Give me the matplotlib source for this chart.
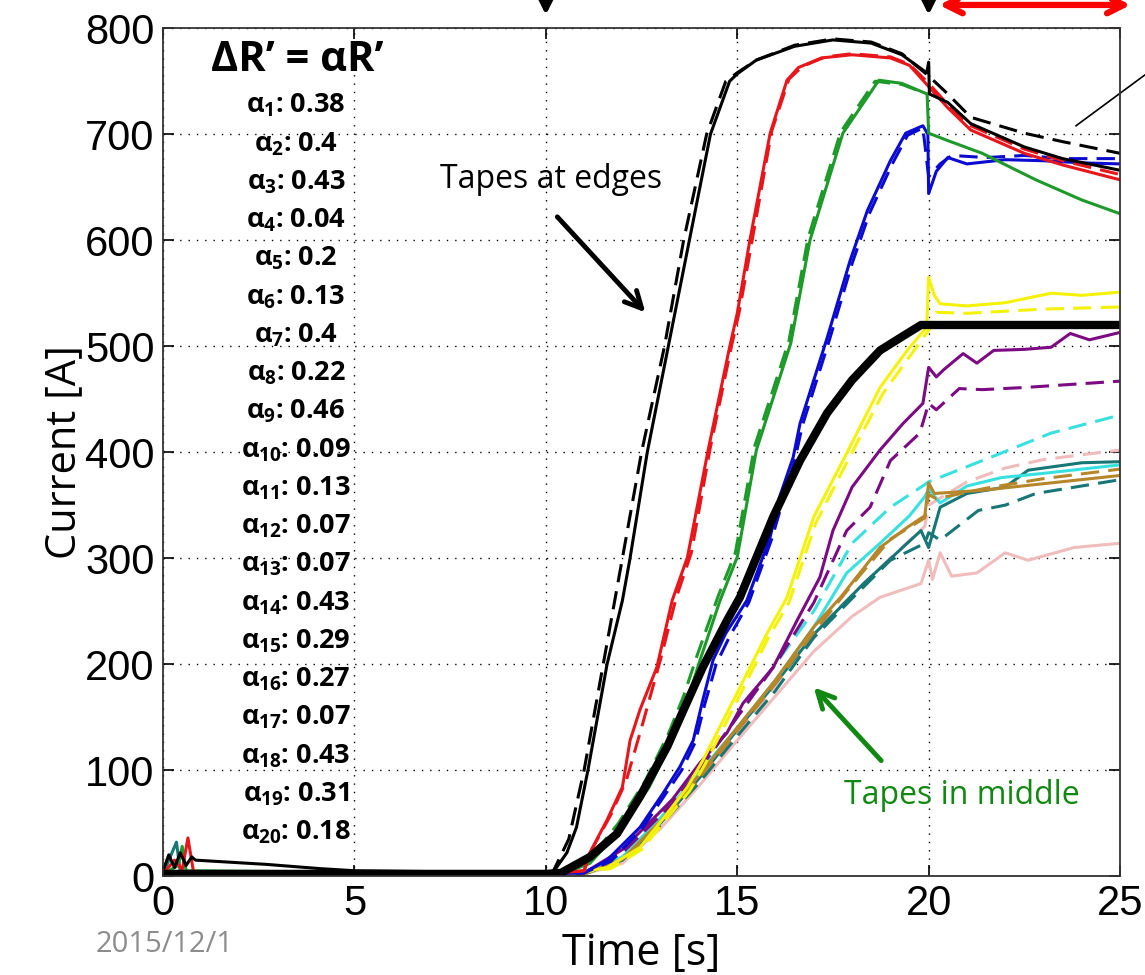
import matplotlib
matplotlib.use("Agg")
import matplotlib.pyplot as plt

plt.rcParams['mathtext.fontset'] = 'custom'
plt.rcParams['mathtext.rm'] = 'Open Sans:bold'
plt.rcParams['mathtext.it'] = 'Open Sans:bold'
plt.rcParams['mathtext.bf'] = 'Open Sans:bold'

# --- data (time [s], current [A]) ---
t_edge = [0, 0.15, 0.3, 0.45, 0.6, 0.75, 0.85, 2.7, 4.1, 5, 10, 10.2, 10.55, 10.8, 11.1, 11.6, 12.0, 12.2,
          12.65, 13.2, 13.75, 14.3, 14.8, 15.0, 15.5, 16.5, 17.5, 18.5, 19.3, 19.95, 20.0, 20.02, 20.5, 21.1,
          22.5, 23.5, 25]
i_edge = [5, 20, 8, 22, 10, 18, 15, 11, 7, 5, 3, 4, 22, 46, 100, 200, 260, 300,
          400, 500, 600, 700, 750, 757, 770, 783, 789, 786, 775, 758, 768, 738, 730, 710,
          688, 677, 666]
t_edge_d = [0, 10, 10.2, 10.6, 11.0, 11.5, 11.9, 12.5, 13.1, 13.6, 14.2, 14.7, 15.0, 15.5, 16.5, 17.5, 18.5,
            19.3, 20.0, 20.5, 21.1, 22.5, 23.5, 25]
i_edge_d = [3, 3, 5, 35, 100, 200, 280, 400, 500, 600, 700, 750, 758, 770, 784, 790, 787,
            776, 755, 738, 716, 701, 693, 682]

t_red = [0, 0.3, 0.5, 0.65, 0.8, 10, 11.0, 11.15, 11.6, 12.0, 12.2, 12.46, 12.9, 13.3, 13.7, 14.24, 14.8, 15.0,
         15.33, 15.86, 16.3, 16.6, 17.2, 18.0, 19.0, 19.5, 20.0, 20.5, 21.1, 22.5, 23.5, 25]
i_red = [2, 15, 6, 36, 3, 2, 5, 22, 53, 84, 128, 157, 197, 260, 301, 402, 499, 531,
         600, 701, 751, 763, 772, 775, 772, 765, 745, 725, 704, 682, 671, 657]
t_red_d = [0, 10, 11.0, 11.2, 11.7, 12.1, 12.5, 13.0, 13.4, 13.8, 14.3, 14.85, 15.05, 15.4, 15.9, 16.35,
           16.7, 17.3, 18.0, 19.0, 19.5, 20.0, 20.5, 21.1, 22.5, 23.5, 25]
i_red_d = [2, 2, 5, 25, 58, 90, 140, 205, 262, 305, 405, 500, 532, 602, 703, 752, 764, 773, 776, 773,
           766, 748, 728, 708, 686, 675, 662]

t_green = [0, 0.4, 0.5, 0.6, 10, 10.5, 11.15, 12.0, 12.7, 13.3, 13.7, 14.03, 14.55, 15.0, 15.5, 16.4,
           16.9, 17.76, 18.7, 19.3, 19.96, 20.0, 20.5, 21.4, 22.8, 24, 25]
i_green = [2, 10, 28, 5, 2, 3, 12, 46, 84, 128, 166, 204, 260, 301, 402, 503,
           600, 701, 751, 748, 738, 701, 694, 682, 657, 638, 625]
t_green_d = [0, 10, 10.5, 11.1, 11.9, 12.6, 13.2, 13.6, 13.95, 14.5, 14.95, 15.45, 16.35, 16.85, 17.7,
             18.6, 19.3, 19.96]
i_green_d = [2, 2, 3, 14, 50, 90, 134, 170, 208, 264, 305, 405, 505, 602, 702, 750, 747, 738]

t_blue = [0, 10, 11.0, 11.6, 12.46, 13.06, 13.5, 13.85, 14.1, 14.37, 14.7, 15.25, 15.86, 16.1, 16.46,
          16.64, 17.35, 17.95, 18.4, 19.0, 19.4, 19.85, 19.98, 20.0, 20.2, 20.5, 21, 22, 23, 24, 25]
i_blue = [2, 2, 3, 15, 46, 78, 103, 128, 166, 204, 229, 260, 320, 357, 395,
          427, 508, 581, 628, 675, 701, 708, 700, 644, 665, 678, 672, 676, 675, 673, 672]
t_blue_d = [0, 10, 11.0, 11.7, 12.5, 13.1, 13.55, 13.9, 14.15, 14.45, 14.8, 15.3, 15.9, 16.2, 16.5,
            16.7, 17.4, 18.0, 18.45, 19.05, 19.45, 19.85, 20.0, 20.3, 20.6, 21.5, 22.5, 23.5, 25]
i_blue_d = [2, 2, 3, 14, 44, 76, 100, 126, 162, 200, 226, 258, 318, 355, 392,
            425, 505, 578, 625, 672, 699, 706, 660, 672, 680, 678, 680, 677, 677]

t_ref = [0, 10, 10.4, 11.15, 11.86, 12.46, 13.17, 13.6, 14.1, 14.73, 15.07, 15.94, 16.64, 17.35, 18.0,
         18.73, 19.44, 19.8, 25]
i_ref = [2, 2, 3, 18, 40, 75, 122, 157, 197, 241, 263, 339, 392, 437, 468,
         496, 512, 520, 520]

t_yel = [0, 10, 10.8, 11.6, 12.46, 13.17, 13.7, 14.1, 14.55, 15.07, 15.78, 16.3, 17.0, 17.86, 18.73,
         19.44, 19.95, 20.0, 20.15, 20.3, 21, 22, 23.2, 24, 25]
i_yel = [2, 2, 3, 8, 27, 59, 84, 109, 141, 178, 229, 263, 339, 399, 461,
         496, 518, 565, 548, 540, 538, 541, 550, 548, 551]
t_yel_d = [0, 10, 10.8, 11.7, 12.5, 13.2, 13.75, 14.15, 14.6, 15.1, 15.8, 16.35, 17.05, 17.9, 18.8,
           19.5, 20.0, 20.2, 21, 22, 23, 24, 25]
i_yel_d = [2, 2, 3, 7, 25, 56, 80, 105, 137, 173, 224, 258, 333, 393, 455,
           490, 515, 532, 531, 533, 535, 536, 537]

t_pur = [0, 10, 11.0, 12.0, 13.3, 14.03, 14.73, 15.15, 15.94, 16.56, 17.16, 17.5, 18.0, 18.73, 19.33,
         19.85, 20.0, 20.2, 20.4, 20.9, 21.26, 21.7, 22.5, 23.2, 23.7, 24.2, 25]
i_pur = [2, 2, 3, 25, 72, 107, 135, 163, 197, 241, 282, 326, 367, 402, 427,
         446, 480, 471, 478, 493, 484, 496, 497, 499, 512, 506, 513]
t_pur_d = [0, 10, 11.0, 12.0, 13.3, 14.0, 15.0, 16.0, 17.0, 17.86, 18.47, 19.0, 19.77, 20.0, 20.2, 20.8,
           21.4, 22.5, 25]
i_pur_d = [2, 2, 3, 22, 68, 100, 150, 200, 258, 326, 348, 392, 418, 446, 440, 460,
           459, 461, 467]

t_cyan = [0, 10, 11, 12, 13, 14, 15, 16, 17, 17.86, 18.73, 19.5, 19.9, 20.0, 20.3, 21, 21.9, 23, 25]
i_cyan = [2, 2, 3, 18, 55, 97, 140, 185, 235, 286, 314, 340, 358, 365, 352, 368, 376, 380, 388]
t_cyan_d = [0, 10, 11, 12, 13, 14, 15, 16, 17, 18, 19, 19.8, 20.0, 21.4, 23.2, 25]
i_cyan_d = [2, 2, 3, 20, 60, 100, 150, 200, 250, 314, 348, 367, 372, 392, 418, 435]

t_teal = [0, 0.35, 0.45, 10, 11, 12, 13, 14, 15, 16, 17, 18.3, 19.8, 20.0, 20.3, 21.0, 22.0, 22.6, 24, 25]
i_teal = [2, 32, 4, 2, 2, 15, 50, 92, 138, 182, 228, 276, 326, 310, 348, 361, 367, 383, 390, 391]
t_teal_d = [0, 10, 11, 12, 13, 14, 15, 16, 17, 18, 19, 19.9, 20.0, 20.3, 21.3, 22, 22.8, 25]
i_teal_d = [2, 2, 2, 14, 48, 88, 132, 175, 225, 262, 298, 314, 324, 317, 345, 350, 361, 374]

t_brown = [0, 10, 11, 12, 13, 14, 15, 16, 17, 17.7, 18.73, 19.44, 19.9, 20.0, 20.15, 21.4, 23.2, 25]
i_brown = [2, 2, 2, 16, 52, 95, 140, 185, 235, 263, 310, 329, 340, 371, 361, 364, 371, 378]
t_brown_d = [0, 10, 11, 12, 13, 14, 15, 16, 17, 18, 19, 19.9, 20.0, 20.2, 21.5, 23, 25]
i_brown_d = [2, 2, 2, 15, 50, 92, 137, 182, 230, 275, 318, 338, 360, 356, 366, 375, 384]

t_pink = [0, 10, 11, 12, 13, 14, 15, 16, 17, 18, 18.73, 19.8, 20.0, 20.1, 20.3, 20.6, 21.26, 22.0, 22.6,
          23.8, 25]
i_pink = [2, 2, 2, 12, 45, 85, 128, 170, 212, 245, 263, 276, 298, 280, 305, 283, 286, 305, 298, 310, 314]
t_pink_d = [0, 10, 11, 12, 13, 14, 15, 16, 17, 18, 19, 19.9, 20.0, 21, 22, 23, 25]
i_pink_d = [2, 2, 2, 13, 48, 90, 135, 180, 230, 265, 300, 330, 350, 372, 385, 393, 402]

alpha_vals = ['0.38', '0.4', '0.43', '0.04', '0.2', '0.13', '0.4', '0.22', '0.46', '0.09',
              '0.13', '0.07', '0.07', '0.43', '0.29', '0.27', '0.07', '0.43', '0.31', '0.18']

x_ticks = [0, 5, 10, 15, 20, 25]
y_ticks = [0, 100, 200, 300, 400, 500, 600, 700, 800]

# --- figure ---
fig = plt.figure(figsize=(11.45, 9.75), dpi=100)
ax = fig.add_axes([0.1424, 0.1015, 0.8358, 0.8695])

c_red = '#e8161b'
c_green = '#1e9a2a'
c_blue = '#0a0ad0'
c_yel = '#f5f20a'
c_pur = '#7c0a82'
c_cyan = '#38e0e0'
c_teal = '#177676'
c_brown = '#b5872a'
c_pink = '#f0bcbc'

series = [
    (t_pink, i_pink, c_pink, '-'), (t_pink_d, i_pink_d, c_pink, '--'),
    (t_teal_d, i_teal_d, c_teal, '--'), (t_teal, i_teal, c_teal, '-'),
    (t_cyan_d, i_cyan_d, c_cyan, '--'), (t_cyan, i_cyan, c_cyan, '-'),
    (t_brown_d, i_brown_d, c_brown, '--'), (t_brown, i_brown, c_brown, '-'),
    (t_pur_d, i_pur_d, c_pur, '--'), (t_pur, i_pur, c_pur, '-'),
    (t_yel_d, i_yel_d, c_yel, '--'), (t_yel, i_yel, c_yel, '-'),
    (t_blue_d, i_blue_d, c_blue, '--'), (t_blue, i_blue, c_blue, '-'),
    (t_green_d, i_green_d, c_green, '--'), (t_green, i_green, c_green, '-'),
    (t_red_d, i_red_d, c_red, '--'), (t_red, i_red, c_red, '-'),
    (t_edge_d, i_edge_d, 'black', '--'), (t_edge, i_edge, 'black', '-'),
]
for t, cur, col, ls in series:
    ax.plot(t, cur, color=col, linestyle=ls, linewidth=2.2, dashes=(6, 3) if ls == '--' else (None, None))

ax.plot(t_ref, i_ref, color='black', linewidth=6)

ax.set_xlim(0, 25)
ax.set_ylim(0, 800)
ax.set_xticks(x_ticks)
ax.set_yticks(y_ticks)
ax.grid(True, color='black', linestyle=(0, (1, 5)), linewidth=1.0)
ax.tick_params(direction='in', length=8, width=1.2, top=True, right=True, labelsize=30, pad=6)
for lab in ax.get_xticklabels() + ax.get_yticklabels():
    lab.set_fontfamily('Liberation Sans')
for sp in ax.spines.values():
    sp.set_color('#333333')
    sp.set_linewidth(1.3)

ax.set_xlabel('Time [s]', fontsize=31, fontfamily='Open Sans', labelpad=5)
ax.set_ylabel('Current [A]', fontsize=30, fontfamily='Open Sans', labelpad=0)

# alpha list
ax.text(3.5, 770, 'ΔR’ = αR’', fontsize=30, fontweight='bold', fontfamily='Open Sans',
        ha='center', va='center')
for k, v in enumerate(alpha_vals):
    ax.text(3.47, 727 - 36.1 * k, r'$\alpha_{%d}$: %s' % (k + 1, v), fontsize=19.5,
            fontweight='bold', fontfamily='Open Sans', ha='center', va='center')

# annotations
ax.text(10.14, 657, 'Tapes at edges', fontsize=23, fontfamily='Open Sans', ha='center', va='center')
ax.annotate('', xy=(12.65, 530), xytext=(10.25, 624),
            arrowprops=dict(arrowstyle='->', color='black', lw=3.5, mutation_scale=30))
ax.text(20.87, 76, 'Tapes in middle', fontsize=23, fontfamily='Open Sans', color='#118811',
        ha='center', va='center')
ax.annotate('', xy=(16.95, 180), xytext=(18.81, 107),
            arrowprops=dict(arrowstyle='->', color='#118811', lw=3.5, mutation_scale=30))

for tx in [10, 20]:
    ax.annotate('', xy=(tx, 810), xytext=(tx, 860), annotation_clip=False,
                arrowprops=dict(arrowstyle='->', color='black', lw=3.5, mutation_scale=30))
ax.annotate('', xy=(25.35, 822), xytext=(20.2, 822), annotation_clip=False,
            arrowprops=dict(arrowstyle='<->', color='#ff0000', lw=4.5, mutation_scale=30))
ax.plot([23.85, 25.65, 26.2], [708, 756, 756], color='black', linewidth=1.2, clip_on=False)

fig.text(165 / 1145, 1 - 945 / 975, '2015/12/1', fontsize=21, fontfamily='Open Sans',
         color='#8c8c8c', ha='center', va='center')

fig.savefig('out.png', dpi=100)
